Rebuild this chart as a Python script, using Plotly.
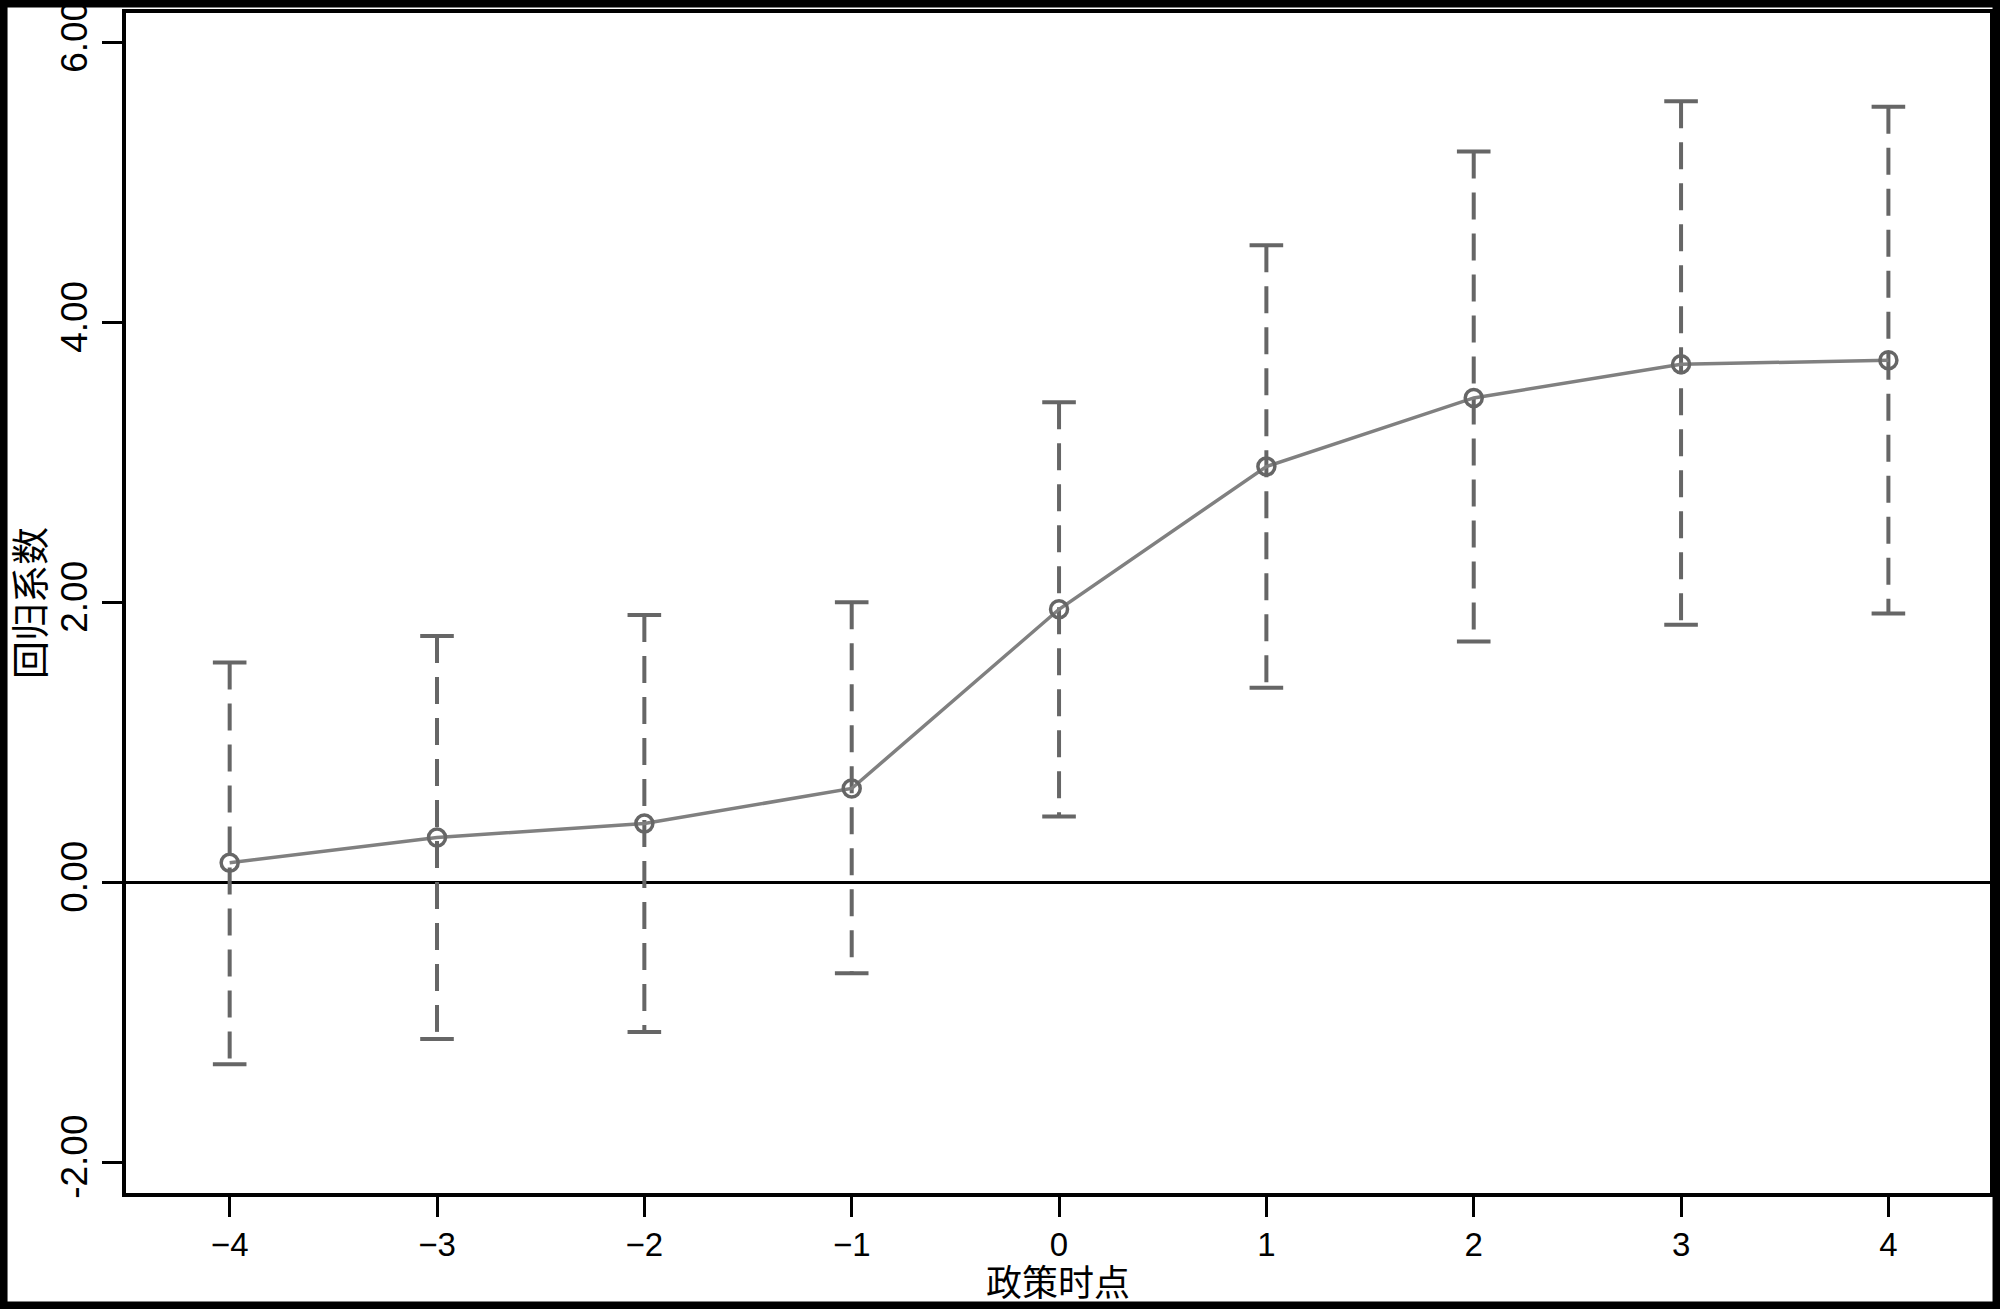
import plotly.graph_objects as go

# event-study coefficients
periods = [-4, -3, -2, -1, 0, 1, 2, 3, 4]
coef = [0.14, 0.32, 0.42, 0.67, 1.95, 2.97, 3.46, 3.70, 3.73]
ci_low = [-1.30, -1.12, -1.07, -0.65, 0.47, 1.39, 1.72, 1.84, 1.92]
ci_high = [1.57, 1.76, 1.91, 2.00, 3.43, 4.55, 5.22, 5.58, 5.54]

y_ticks = [-2, 0, 2, 4, 6]
y_ticktext = ["-2.00", "0.00", "2.00", "4.00", "6.00"]
x_ticktext = ["\u22124", "\u22123", "\u22122", "\u22121", "0", "1", "2", "3", "4"]
x_title = "政策时点"
y_title = "回归系数"

ci_color = "#666666"
line_color = "#808080"

# dashed CI segments, drawn top to bottom so the dash starts at the cap
ci_x, ci_y = [], []
for x, lo, hi in zip(periods, ci_low, ci_high):
    ci_x += [x, x, None]
    ci_y += [hi, lo, None]

fig = go.Figure()
fig.add_trace(go.Scatter(
    x=ci_x, y=ci_y, mode="lines",
    line=dict(color=ci_color, width=4, dash="27px,14px"),
    hoverinfo="skip", showlegend=False,
))
# caps
fig.add_trace(go.Scatter(
    x=periods + periods, y=ci_high + ci_low, mode="markers",
    marker=dict(symbol="line-ew", size=24, line=dict(color=ci_color, width=4)),
    hoverinfo="skip", showlegend=False,
))
fig.add_trace(go.Scatter(
    x=periods, y=coef, mode="lines+markers",
    line=dict(color=line_color, width=3.5),
    marker=dict(symbol="circle-open", size=17, color=ci_color, line=dict(width=3.5, color=ci_color)),
    showlegend=False,
))

fig.update_layout(
    width=2000, height=1309,
    margin=dict(l=126, r=10, t=13, b=116),
    paper_bgcolor="white", plot_bgcolor="white",
    font=dict(family="Liberation Sans, Arial, sans-serif", size=37, color="black"),
    shapes=[dict(
        type="rect", xref="paper", yref="paper",
        x0=-0.0657, x1=1.0035, y0=-0.0953, y1=1.008,
        line=dict(color="black", width=8),
    )],
    # x title sits low, just above the outer frame
    annotations=[dict(
        text=x_title, xref="paper", yref="paper", x=0.5, y=-0.0735,
        xanchor="center", yanchor="middle", showarrow=False,
        font=dict(family="Noto Sans CJK SC", size=36, color="black"),
    )],
)
fig.update_xaxes(
    range=[-4.5, 4.49], tickvals=periods, ticktext=x_ticktext,
    tickfont=dict(size=33),
    ticks="outside", ticklen=20, tickwidth=3, tickcolor="black",
    showline=True, linecolor="black", linewidth=3.5, mirror=True,
    showgrid=False, zeroline=False, automargin=False,
)
fig.update_yaxes(
    range=[-2.22, 6.21], tickvals=y_ticks, ticktext=y_ticktext, tickangle=-90,
    ticks="outside", ticklen=20, tickwidth=3, tickcolor="black",
    showline=True, linecolor="black", linewidth=3.5, mirror=True,
    showgrid=False, zeroline=True, zerolinecolor="black", zerolinewidth=3,
    automargin=False,
    title=dict(text=y_title, font=dict(family="Noto Sans CJK SC", size=38), standoff=8),
)

fig.write_html("out.html", config={"displayModeBar": False},
               post_script="document.body.style.margin='0';")
